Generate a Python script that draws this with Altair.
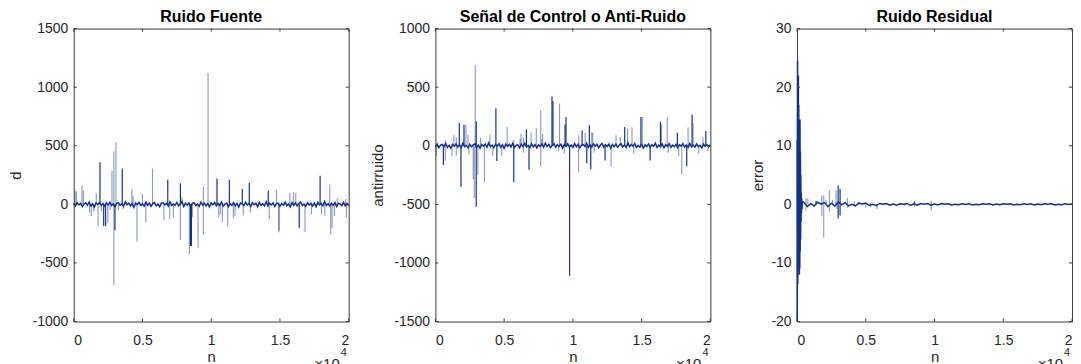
import altair as alt
import pandas as pd

FONT = "Liberation Sans"
DARK = "#13308f"
BOX = "#3a3a3a"
W, H = 276, 294

# ---------------- shared x ticks ----------------
x_ticks = [0, 5000, 10000, 15000, 20000]

# ---------------- Panel 1 : Ruido Fuente ----------------
p1_yticks = [-1000, -500, 0, 500, 1000, 1500]
p1_base_v = [8, -12, 15, -5, 10, -18, 4, 12, -9, 20, -14, 6, -22, 11, -3, 16, -10, 7, -15, 13,
             -6, 18, -11, 3, -20, 9, 14, -8, 5, -16, 22, -4, 10, -13, 7, -25, 12, -2, 17, -9,
             4, -14, 19, -7, 11, -17, 6, 15, -12, 2, -21, 10, 13, -5, 8, -15, 21, -10, 3, -8,
             16, -13, 5, 24, -18, 9, -6, 12, -20, 7, 14, -11, 2, -16, 19, -7, 10, -14, 6, -23,
             13, -4, 17, -12, 8, -9, 20, -15, 3, 11, -19, 6, -8, 15, -13, 9, -24, 12, 4, -10,
             18, -6, 7, -17, 14, -3, 10, -21, 16, -8, 5, -12, 22, -14, 9, -5, 13, -18, 6, 11,
             -16, 8, -7, 19, -11, 4, -22, 15, -9, 12, -13, 7, 20, -10, 3, -17, 14, -6, 9, -15,
             11, -20, 17, -5, 8, -12, 23, -9, 6, -14, 10, -7, 15, -18, 9, 4, -11, 16, -13, 7, -9]
p1_dark_n = [1910, 2180, 2320, 3000, 3530, 6840, 7760, 8490, 8560, 8520, 10420, 11320, 12260, 12770, 14150, 16400, 17920]
p1_dark_v = [360, -185, -185, -220, 305, 210, 180, -355, -355, -300, 220, 210, 130, 185, 115, -200, 245]
p1_faint_n = [100, 200, 600, 700, 1150, 1280, 1450, 1640, 1770, 2000, 2480, 2650, 2780, 2920, 2920, 3070, 3250,
              3600, 4230, 4320, 4600, 5000, 5250, 5730, 6560, 6980, 7250, 7760, 7870, 8410, 8630, 9040, 9430,
              9430, 9770, 10540, 10660, 10810, 11200, 11610, 11730, 12330, 12840, 14220, 14750, 14900, 14950,
              15720, 15980, 16150, 16820, 17290, 18020, 18260, 18620, 18690, 18790, 18960, 19170, 19780, 19830]
p1_faint_v = [115, 110, 160, 120, -70, -100, -60, 95, -190, -60, -160, -50, 285, 450, -690, 530, -50,
              -40, 130, 70, -320, 90, -155, 305, -135, -125, -115, -305, 60, -425, -110, -370, 150,
              -255, 1120, -115, -85, -150, -185, -115, -100, -95, -70, -125, 120, -240, -225,
              100, 105, 100, -235, -85, -85, -95, 170, -255, -200, -100, 50, 45, -115]

# ---------------- Panel 2 : Señal de Control o Anti-Ruido ----------------
p2_yticks = [-1500, -1000, -500, 0, 500, 1000]
p2_base_v = [-10, 14, -17, 6, 11, -8, 19, -13, 4, -21, 12, -5, 16, -11, 8, -15, 22, -7, 3, -18,
             13, -9, 7, 17, -14, 5, -20, 10, -4, 15, -12, 24, -8, 6, -16, 11, -3, 18, -13, 9,
             -22, 14, -6, 12, -10, 20, -15, 5, 8, -17, 13, -7, 21, -11, 4, -14, 16, -9, 10, -19,
             7, -5, 15, -12, 23, -8, 11, -16, 3, 18, -13, 9, -6, 14, -20, 12, -4, 17, -10, 6,
             -15, 19, -9, 13, -18, 5, 10, -7, 22, -14, 8, -11, 16, -3, 12, -17, 6, 20, -12, 9,
             -6, 15, -21, 11, -8, 14, -13, 4, 17, -10, 7, -16, 25, -9, 12, -5, 18, -14, 3, -11,
             13, -19, 8, -7, 16, -12, 10, -4, 21, -15, 6, -9, 14, -17, 11, -6, 19, -13, 5, -8,
             12, -16, 9, -3, 17, -11, 7, -14, 20, -10, 6, -12, 15, -8, 4, -18, 13, -5, 10, -9, 8]
p2_dark_n = [580, 1740, 1860, 2080, 2970, 2970, 4400, 4470, 5700, 6620, 6810, 8480, 8550, 9430, 9500,
             9760, 10670, 11010, 11200, 11300, 12340, 13770, 14950, 15620, 16370, 17600, 18280, 18670, 19670]
p2_dark_v = [-165, 195, -350, 180, 210, -520, 320, -130, -310, 140, -205, 420, 380, 180, 245,
             -1110, 130, -150, 175, -200, -125, 160, 245, -125, 205, 110, -175, 265, 125]
p2_faint_n = [70, 720, 720, 1210, 1350, 1520, 1520, 2220, 2370, 2440, 2750, 2830, 2900, 3090, 3280, 3570,
              3960, 4180, 4830, 5220, 5700, 6160, 6230, 6400, 6400, 6960, 7340, 7660, 7660, 7730, 7800,
              8960, 9030, 9370, 10410, 10430, 10890, 11370, 11440, 11540, 12780, 13140, 13450, 13980,
              14300, 14420, 15050, 16440, 16860, 16940, 17700, 17920, 18380, 18740, 19150, 19460, 19820]
p2_faint_v = [-90, -125, 50, -90, 95, 70, -85, 180, 95, -75, -285, -445, 690, -245, 70, -310,
              95, -90, -85, 160, 50, 60, 105, 70, -60, 110, 150, 300, -175, 55, 100,
              -45, 360, -70, -225, 95, 110, 115, 110, -60, -175, 95, 75, 145,
              155, -65, 245, 180, 245, -60, -90, -245, 155, 195, -65, 70, -45]

# ---------------- Panel 3 : Ruido Residual ----------------
p3_yticks = [-20, -10, 0, 10, 20, 30]
p3_burst_n = [0, 8, 20, 35, 50, 65, 80, 95, 110, 125, 140, 155, 170, 185, 200, 215, 230, 245, 260,
              275, 290, 305, 320, 340, 360, 380]
p3_burst_v = [11, -20, 5, 24.5, -13.6, 18, -8, 22, -11, 17, -10, 14, -12, 12, -11, 14.5, -8, 9, -6,
              5, -3, 2, -1.5, 1, -0.8, 0.5]
p3_base_n = [500, 750, 1000, 1250, 1500, 1750, 2000, 2250, 2500, 2750, 3000, 3250, 3500, 3750, 4000,
             4250, 4500, 4750, 5000, 5250, 5500, 5750, 6000, 6250, 6500, 6750, 7000, 7250, 7500, 7750,
             8000, 8250, 8500, 8750, 9000, 9250, 9500, 9750, 10000, 10250, 10500, 10750, 11000, 11250,
             11500, 11750, 12000, 12250, 12500, 12750, 13000, 13250, 13500, 13750, 14000, 14250, 14500,
             14750, 15000, 15250, 15500, 15750, 16000, 16250, 16500, 16750, 17000, 17250, 17500, 17750,
             18000, 18250, 18500, 18750, 19000, 19250, 19500, 19750, 20000]
p3_base_v = [0.3, -0.35, 0.1, -0.3, 0.35, 0.05, 0.3, -0.4, 0.2, -0.3, 0.4, -0.1, 0.3, -0.25, 0.0,
             -0.25, 0.2, 0.05, 0.2, -0.2, 0.0, -0.2, 0.15, 0.02, 0.15, -0.15, 0.05, -0.15, 0.1, 0.0,
             0.15, -0.2, 0.1, -0.15, 0.12, 0.0, 0.12, -0.15, 0.05, -0.1, 0.12, 0.0, 0.1, -0.12,
             0.02, -0.08, 0.1, -0.02, 0.08, -0.1, 0.03, -0.08, 0.1, 0.0, 0.08, -0.1, 0.05,
             -0.08, 0.1, 0.0, 0.08, -0.1, 0.02, -0.08, 0.1, -0.03, 0.08, -0.1, 0.04, -0.08,
             0.1, 0.0, 0.08, -0.1, 0.02, -0.08, 0.1, -0.02, 0.05]
p3_dark_n = [1380, 2990, 2990, 3130, 3130, 8540]
p3_dark_v = [0.6, 3.2, -2.4, 2.6, -1.9, 0.5]
p3_faint_n = [340, 410, 650, 650, 780, 1800, 1800, 1940, 1940, 2120, 2350, 2350, 2580, 2840, 2910,
              3660, 3660, 4170, 4170, 4420, 5000, 5320, 5320, 5820, 7800, 8540, 9760, 9760]
p3_faint_v = [0.7, -0.85, 1.0, -1.1, 1.0, 1.5, -2.0, -5.7, 1.5, 0.8, 2.4, -1.3, 0.8, 2.4, -0.8,
              1.1, -0.6, 0.5, -0.4, 0.4, -0.6, 0.3, -0.5, -0.85, -0.3, -0.4, -1.1, 0.6]


def panel(title, ylab, ydomain, yticks, ytitle_x, line_n, line_v, dark_n, dark_v, faint_n, faint_v):
    xs = alt.Scale(domain=[0, 20000], nice=False, zero=False)
    ys = alt.Scale(domain=ydomain, nice=False, zero=False)

    line_df = pd.DataFrame({"n": line_n, "v": line_v})
    dark_df = pd.DataFrame({"n": dark_n, "v": dark_v, "z": [0] * len(dark_n)})
    faint_df = pd.DataFrame({"n": faint_n, "v": faint_v, "z": [0] * len(faint_n)})
    xt_df = pd.DataFrame({"n": x_ticks})
    yt_df = pd.DataFrame({"v": yticks})

    x_axis = alt.Axis(values=x_ticks, labelExpr="datum.value / 10000 + ''", ticks=False, domain=False,
                      grid=False, labelFont=FONT, labelFontSize=14, labelColor="#262626",
                      labelPadding=12, title="n", titleFont=FONT, titleFontSize=15,
                      titleFontWeight="normal", titleColor="#262626", titleY=40,
                      titleBaseline="alphabetic")
    y_axis = alt.Axis(values=yticks, labelExpr="datum.value + ''", ticks=False, domain=False,
                      grid=False, labelFont=FONT,
                      labelFontSize=14, labelColor="#262626", labelPadding=6, title=ylab,
                      titleFont=FONT, titleFontSize=15, titleFontWeight="normal",
                      titleColor="#262626", titleX=ytitle_x, titleY=H / 2, titleAngle=270,
                      titleAlign="center", titleBaseline="middle")
    X = alt.X("n:Q", scale=xs, axis=x_axis)
    Y = alt.Y("v:Q", scale=ys, axis=y_axis)

    faint = alt.Chart(faint_df).mark_rule(color=DARK, strokeWidth=1.1, opacity=0.5).encode(
        x=X, y=Y, y2="z:Q")
    line = alt.Chart(line_df).mark_line(color=DARK, strokeWidth=1.5).encode(x=X, y=Y)
    dark = alt.Chart(dark_df).mark_rule(color=DARK, strokeWidth=1.2).encode(x=X, y=Y, y2="z:Q")
    xt_bot = alt.Chart(xt_df).mark_rule(color=BOX, strokeWidth=1).encode(
        x=X, y=alt.value(H), y2=alt.value(H - 3))
    xt_top = alt.Chart(xt_df).mark_rule(color=BOX, strokeWidth=1).encode(
        x=X, y=alt.value(0), y2=alt.value(3))
    yt_left = alt.Chart(yt_df).mark_rule(color=BOX, strokeWidth=1).encode(
        y=Y, x=alt.value(0), x2=alt.value(3))
    yt_right = alt.Chart(yt_df).mark_rule(color=BOX, strokeWidth=1).encode(
        y=Y, x=alt.value(W), x2=alt.value(W - 3))

    exp_df = pd.DataFrame({"a": ["\u00d710"], "b": ["4"]})
    exp_main = alt.Chart(exp_df).mark_text(font=FONT, fontSize=15, color="#262626", align="right",
                                           baseline="alphabetic").encode(
        text="a:N", x=alt.value(W - 9), y=alt.value(H + 48))
    exp_sup = alt.Chart(exp_df).mark_text(font=FONT, fontSize=11, color="#262626", align="left",
                                          baseline="alphabetic").encode(
        text="b:N", x=alt.value(W - 8), y=alt.value(H + 35))

    return alt.layer(faint, line, dark, xt_bot, xt_top, yt_left, yt_right, exp_main, exp_sup).properties(
        width=W, height=H,
        title=alt.TitleParams(title, font=FONT, fontSize=16, fontWeight="bold", color="black",
                              anchor="middle", baseline="alphabetic", offset=-16),
    )


c1 = panel("Ruido Fuente", "d", [-1000, 1500], p1_yticks, -58,
           [i * 125 for i in range(len(p1_base_v))], p1_base_v,
           p1_dark_n, p1_dark_v, p1_faint_n, p1_faint_v)
c2 = panel("Señal de Control o Anti-Ruido", "antirruido", [-1500, 1000], p2_yticks, -58,
           [i * 125 for i in range(len(p2_base_v))], p2_base_v,
           p2_dark_n, p2_dark_v, p2_faint_n, p2_faint_v)
c3 = panel("Ruido Residual", "error", [-20, 30], p3_yticks, -40,
           p3_burst_n + p3_base_n, p3_burst_v + p3_base_v, p3_dark_n, p3_dark_v, p3_faint_n, p3_faint_v)

chart = alt.hconcat(c1, c2, c3, spacing=87, bounds="flush").configure_view(
    stroke=BOX, strokeWidth=1
).properties(
    padding={"left": 8, "top": 7, "right": 5, "bottom": 5},
    background="white",
)

chart.save("out.html", embed_options={"renderer": "svg", "actions": False})
